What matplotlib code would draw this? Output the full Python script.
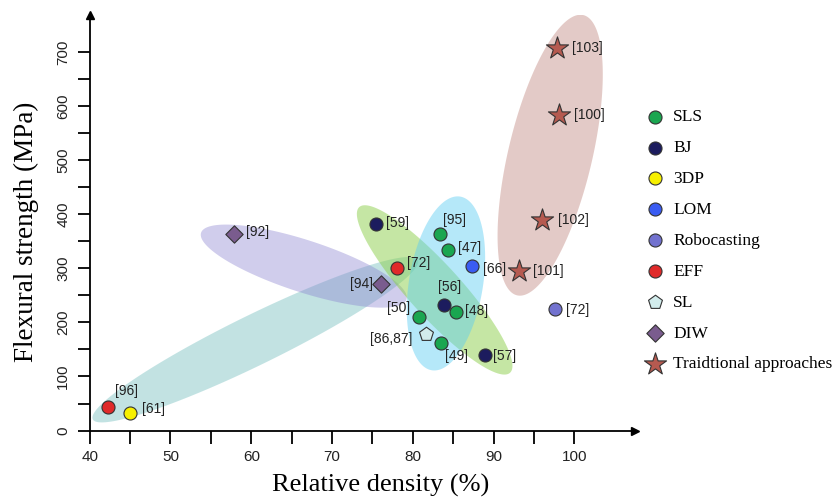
import numpy as np
import matplotlib
matplotlib.use("Agg")
import matplotlib.pyplot as plt

# data (relative density %, flexural strength MPa)
sls_x = [83.3, 84.4, 85.4, 80.8, 83.5]
sls_y = [363, 334, 219, 210, 162]
sls_refs = ['[95]', '[47]', '[48]', '[50]', '[49]']

bj_x = [75.5, 83.8, 88.9]
bj_y = [382, 232, 139]
bj_refs = ['[59]', '[56]', '[57]']

p3d_x = [45.0]
p3d_y = [32]
p3d_refs = ['[61]']

lom_x = [87.3]
lom_y = [305]
lom_refs = ['[66]']

robo_x = [97.6]
robo_y = [225]
robo_refs = ['[72]']

eff_x = [42.3, 78.0]
eff_y = [43, 300]
eff_refs = ['[96]', '[72]']

sl_x = [81.6]
sl_y = [178]
sl_refs = ['[86,87]']

diw_x = [57.9, 76.0]
diw_y = [363, 271]
diw_refs = ['[92]', '[94]']

trad_x = [93.2, 96.0, 98.1, 97.9]
trad_y = [295, 390, 583, 707]
trad_refs = ['[101]', '[102]', '[100]', '[103]']

# (name, x, y, refs, marker, size, face colour)
groups = [
    ('SLS', sls_x, sls_y, sls_refs, 'o', 88, '#1aa650'),
    ('BJ', bj_x, bj_y, bj_refs, 'o', 88, '#1c1c5e'),
    ('3DP', p3d_x, p3d_y, p3d_refs, 'o', 88, '#f7f000'),
    ('LOM', lom_x, lom_y, lom_refs, 'o', 88, '#3a5cf2'),
    ('Robocasting', robo_x, robo_y, robo_refs, 'o', 88, '#7272cf'),
    ('EFF', eff_x, eff_y, eff_refs, 'o', 88, '#e02a2a'),
    ('SL', sl_x, sl_y, sl_refs, 'p', 110, '#d2ecec'),
    ('DIW', diw_x, diw_y, diw_refs, 'D', 78, '#7a5c8e'),
    ('Traidtional approaches', trad_x, trad_y, trad_refs, '*', 280, '#b55a50'),
]

# label offsets in pixels (dx, dy image-down), alignment
label_pos = {
    'SLS': [(3, -14, 'left'), (10, -2, 'left'), (9, -1, 'left'), (-9, -9, 'right'), (4, 13, 'left')],
    'BJ': [(10, -1, 'left'), (-6, -18, 'left'), (8, 1, 'left')],
    '3DP': [(12, -4, 'left')],
    'LOM': [(11, 3, 'left')],
    'Robocasting': [(11, 1, 'left')],
    'EFF': [(7, -16, 'left'), (10, -5, 'left')],
    'SL': [(-13, 5, 'right')],
    'DIW': [(12, -2, 'left'), (-8, 0, 'right')],
    'Traidtional approaches': [(14, 0, 'left'), (16, 0, 'left'), (15, 0, 'left'), (15, 0, 'left')],
}

# shaded regions: centre (data), semi axes (px), angle (deg), colour, alpha
regions = [
    ((60.5, 168), 181, 25, 26.1, '#6fbcbc', 0.42),
    ((66.5, 304), 108, 26, -18.0, '#8a82d0', 0.40),
    ((82.7, 260), 112, 26, -47.7, '#8ccf4a', 0.5),
    ((84.1, 272), 88, 37, 80.7, '#5ccdf2', 0.45),
    ((97.0, 509), 144, 42, 76.7, '#b46e64', 0.36),
]

XMIN, XMAX = 40, 107.5
YMIN, YMAX = 0, 768

fig = plt.figure(figsize=(8.33, 5.03), dpi=100)
ax = fig.add_axes([0.1077, 0.144, 0.6546, 0.826])
ax.set_xlim(XMIN, XMAX)
ax.set_ylim(YMIN, YMAX)

# px per data unit, for drawing the ellipses in screen proportions
bbox = ax.get_position()
sx = bbox.width * fig.get_figwidth() * fig.dpi / (XMAX - XMIN)
sy = bbox.height * fig.get_figheight() * fig.dpi / (YMAX - YMIN)

t = np.linspace(0, 2 * np.pi, 200)
for (cx, cy), a, b, ang, col, alp in regions:
    th = np.radians(ang)
    px = a * np.cos(t) * np.cos(th) - b * np.sin(t) * np.sin(th)
    py = a * np.cos(t) * np.sin(th) + b * np.sin(t) * np.cos(th)
    ax.fill(cx + px / sx, cy + py / sy, color=col, alpha=alp, lw=0, zorder=1)

for name, xs, ys, refs, mk, sz, col in groups:
    ax.scatter(xs, ys, s=sz, marker=mk, c=col, edgecolors='#333333',
               linewidths=0.8, zorder=3, label=name)
    for i, r in enumerate(refs):
        dx, dy, ha = label_pos[name][i]
        ax.annotate(r, (xs[i], ys[i]), xytext=(dx, -dy), textcoords='offset pixels',
                    ha=ha, va='center', fontsize=10, family='Liberation Sans',
                    color='#222222', zorder=4)

for s in ['top', 'right']:
    ax.spines[s].set_visible(False)
ax.spines['left'].set_linewidth(1.3)
ax.spines['bottom'].set_linewidth(1.3)
ax.plot(0, 1, '^', color='black', ms=6, transform=ax.transAxes, clip_on=False)
ax.plot(1, 0, '>', color='black', ms=6, transform=ax.transAxes, clip_on=False)

ax.set_xticks([40, 50, 60, 70, 80, 90, 100])
ax.set_xticks([45, 55, 65, 75, 85, 95], minor=True)
ax.set_yticks(range(0, 701, 100))
ax.set_yticks(range(50, 701, 100), minor=True)
ax.tick_params(which='both', direction='out', length=9, width=1.3, labelsize=11)
ax.tick_params(axis='x', pad=5)
ax.tick_params(axis='y', labelrotation=90, pad=5)
for lab in ax.get_yticklabels():
    lab.set_va('center')
for lab in ax.get_xticklabels() + ax.get_yticklabels():
    lab.set_family('Liberation Sans')
    lab.set_color('#222222')

ax.set_xlabel('Relative density (%)', family='Liberation Serif', fontsize=19)
ax.set_ylabel('Flexural strength (MPa)', family='Liberation Serif', fontsize=19.5)
ax.xaxis.set_label_coords(0.533, -0.105)
ax.yaxis.set_label_coords(-0.093, 0.478)

leg = fig.legend(loc='upper left', bbox_to_anchor=(0.757, 0.797), frameon=False,
                 prop={'family': 'Liberation Serif', 'size': 12.5}, labelspacing=0.85,
                 handletextpad=0.05, borderaxespad=0, scatterpoints=1)

fig.savefig('out.png', dpi=100)
